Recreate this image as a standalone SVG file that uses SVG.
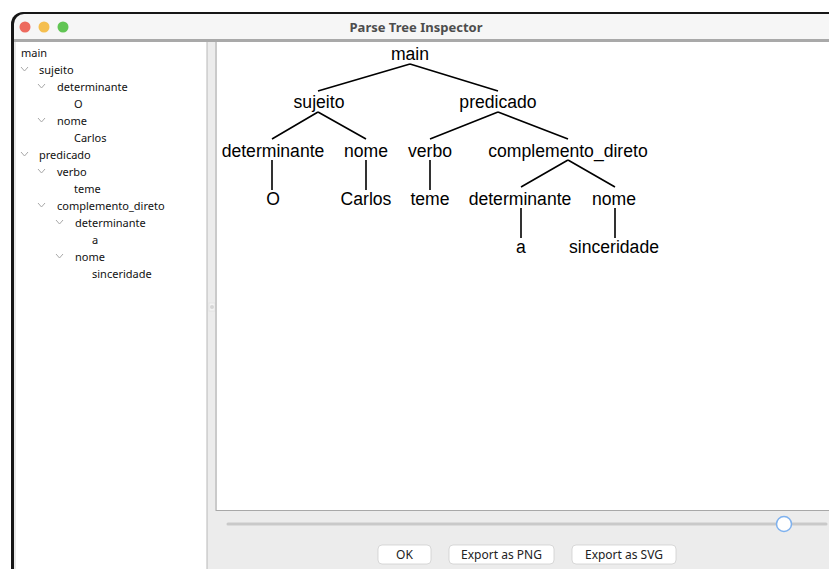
<svg xmlns="http://www.w3.org/2000/svg" width="829" height="569" viewBox="0 0 829 569">
<style>
.ui{font-family:"Noto Sans","Open Sans","Liberation Sans",sans-serif;}
.tl{font-family:"Noto Sans","Open Sans","Liberation Sans",sans-serif;font-size:11px;fill:#111;}
.chev{fill:none;stroke:#a8a8a8;stroke-width:1;}
.tn{font-family:"Liberation Sans",Arial,Helvetica,sans-serif;font-size:17.6px;fill:#000;text-anchor:middle;}
.edge{stroke:#000;stroke-width:1.6;fill:none;}
.btn rect{fill:#fff;stroke:#cfcfcf;stroke-width:0.8;}
.btn text{font-family:"Noto Sans","Open Sans","Liberation Sans",sans-serif;font-size:12px;fill:#222;text-anchor:middle;}
</style>
<rect width="829" height="569" fill="#fff"/>
<!-- window frame -->
<path d="M11,569 V24 A12,12 0 0 1 23,12 H829 V569 Z" fill="#161616"/>
<path d="M14,569 V24 A10,10 0 0 1 24,14 H829 V569 Z" fill="#f6f6f6"/>
<g id="title-bar">
<circle cx="25" cy="27" r="5.5" fill="#ed6a5e"/>
<circle cx="44" cy="27" r="5.5" fill="#f5bf4f"/>
<circle cx="63" cy="27" r="5.5" fill="#61c554"/>
<text x="416" y="31.5" class="ui" font-size="13" font-weight="bold" fill="#4d4d4d" text-anchor="middle">Parse Tree Inspector</text>
<rect x="14" y="39" width="815" height="3" fill="#a9a9a9"/>
</g>
<!-- left pane -->
<rect x="14" y="42" width="193" height="527" fill="#fff"/>
<line x1="15" y1="42" x2="15" y2="569" stroke="#cfcfcf" stroke-width="1"/>
<!-- divider -->
<rect x="207" y="42" width="10" height="527" fill="#ececec"/>
<line x1="207" y1="42" x2="207" y2="569" stroke="#b8b8b8" stroke-width="1"/>
<rect x="209" y="303" width="6" height="8" fill="#f3f3f3" stroke="#dddddd" stroke-width="0.6"/>
<circle cx="212" cy="307" r="2" fill="#d6d6d6"/>
<!-- right area -->
<rect x="217" y="42" width="612" height="527" fill="#ececec"/>
<rect x="217" y="42" width="612" height="468" fill="#fff"/>
<line x1="216" y1="42" x2="216" y2="511" stroke="#a8a8a8" stroke-width="1"/>
<line x1="216" y1="510.5" x2="829" y2="510.5" stroke="#a8a8a8" stroke-width="1"/>

<g id="outline">
<text class="tl" x="21" y="57">main</text>
<polyline class="chev" points="21,67 24.5,71 28,67"/>
<text class="tl" x="39" y="74">sujeito</text>
<polyline class="chev" points="38,84 41.5,88 45,84"/>
<text class="tl" x="57" y="91">determinante</text>
<text class="tl" x="74" y="108">O</text>
<polyline class="chev" points="38,118 41.5,122 45,118"/>
<text class="tl" x="57" y="125">nome</text>
<text class="tl" x="74" y="142">Carlos</text>
<polyline class="chev" points="21,152 24.5,156 28,152"/>
<text class="tl" x="39" y="159">predicado</text>
<polyline class="chev" points="38,169 41.5,173 45,169"/>
<text class="tl" x="57" y="176">verbo</text>
<text class="tl" x="74" y="193">teme</text>
<polyline class="chev" points="38,203 41.5,207 45,203"/>
<text class="tl" x="57" y="210">complemento_direto</text>
<polyline class="chev" points="56,220 59.5,224 63,220"/>
<text class="tl" x="75" y="227">determinante</text>
<text class="tl" x="92" y="244">a</text>
<polyline class="chev" points="56,254 59.5,258 63,254"/>
<text class="tl" x="75" y="261">nome</text>
<text class="tl" x="92" y="278">sinceridade</text>
</g>

<g id="connectors">
<path class="edge" d="M410,64 L318,91 M410,64 L498,91"/>
<path class="edge" d="M318,112 L272,139 M318,112 L366,139"/>
<path class="edge" d="M498,112 L430,139 M498,112 L568,139"/>
<path class="edge" d="M272,160 V190 M366,160 V190 M430,160 V190"/>
<path class="edge" d="M568,160 L521,187 M568,160 L615,187"/>
<path class="edge" d="M521,208 V238 M615,208 V238"/>
</g>
<g id="n-main"><text class="tn" x="410" y="60">main</text></g>
<g id="n-sujeito"><text class="tn" x="319" y="108">sujeito</text></g>
<g id="n-predicado"><text class="tn" x="498" y="108">predicado</text></g>
<g id="n-determinante1"><text class="tn" x="273" y="157">determinante</text></g>
<g id="n-nome1"><text class="tn" x="366" y="157">nome</text></g>
<g id="n-verbo"><text class="tn" x="430" y="157">verbo</text></g>
<g id="n-complemento"><text class="tn" x="568" y="157">complemento_direto</text></g>
<g id="n-O"><text class="tn" x="273" y="205">O</text></g>
<g id="n-Carlos"><text class="tn" x="366" y="205">Carlos</text></g>
<g id="n-teme"><text class="tn" x="430" y="205">teme</text></g>
<g id="n-determinante2"><text class="tn" x="520" y="205">determinante</text></g>
<g id="n-nome2"><text class="tn" x="614" y="205">nome</text></g>
<g id="n-a"><text class="tn" x="521" y="253">a</text></g>
<g id="n-sinceridade"><text class="tn" x="614" y="253">sinceridade</text></g>

<g id="slider">
<line x1="228" y1="524" x2="826" y2="524" stroke="#c9c9c9" stroke-width="3" stroke-linecap="round"/>
<circle cx="784" cy="524" r="7.5" fill="#fff" stroke="#7eb1ee" stroke-width="1.5"/>
</g>
<g id="btn-ok" class="btn"><rect x="378" y="545" width="53" height="19" rx="4"/><text x="404.5" y="559">OK</text></g>
<g id="btn-png" class="btn"><rect x="449" y="545" width="105" height="19" rx="4"/><text x="501.5" y="559">Export as PNG</text></g>
<g id="btn-svg" class="btn"><rect x="572" y="545" width="104" height="19" rx="4"/><text x="624" y="559">Export as SVG</text></g>
</svg>
